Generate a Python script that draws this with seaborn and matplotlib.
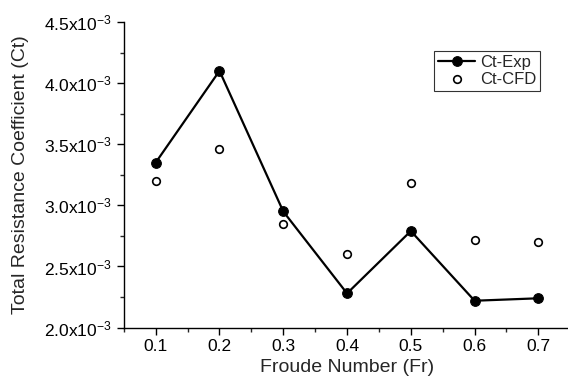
import numpy as np
import pandas as pd
import matplotlib
matplotlib.use("Agg")
import matplotlib.pyplot as plt
import seaborn as sns
from matplotlib.ticker import MultipleLocator, FuncFormatter

froude = [0.1, 0.2, 0.3, 0.4, 0.5, 0.6, 0.7]
ct_exp = [3.35e-3, 4.10e-3, 2.95e-3, 2.28e-3, 2.79e-3, 2.22e-3, 2.24e-3]
ct_cfd = [3.20e-3, 3.46e-3, 2.85e-3, 2.60e-3, 3.18e-3, 2.72e-3, 2.70e-3]

df = pd.DataFrame({"Fr": froude, "Ct-Exp": ct_exp, "Ct-CFD": ct_cfd})

sns.set_style("ticks")
plt.rcParams["font.family"] = ["Liberation Sans", "DejaVu Sans"]
plt.rcParams["mathtext.fontset"] = "custom"
plt.rcParams["mathtext.rm"] = "Liberation Sans"

fig = plt.figure(figsize=(5.68, 3.85), dpi=100)
ax = fig.add_axes([0.218, 0.149, 0.786, 0.794])

sns.lineplot(data=df, x="Fr", y="Ct-Exp", ax=ax, color="black", linewidth=1.6,
             marker="o", markersize=7, markeredgecolor="black", label="Ct-Exp")
sns.scatterplot(data=df, x="Fr", y="Ct-CFD", ax=ax, marker="o", s=30,
                facecolor="white", edgecolor="black", linewidth=1.2, label="Ct-CFD")

ax.set_xlim(0.05, 0.75)
ax.set_ylim(2.0e-3, 4.5e-3)
ax.xaxis.set_major_locator(MultipleLocator(0.1))
ax.xaxis.set_minor_locator(MultipleLocator(0.05))
ax.yaxis.set_major_locator(MultipleLocator(0.5e-3))
ax.yaxis.set_minor_locator(MultipleLocator(0.25e-3))
ax.xaxis.set_major_formatter(FuncFormatter(lambda v, p: f"{v:.1f}"))
ax.yaxis.set_major_formatter(FuncFormatter(
    lambda v, p: r"$\mathregular{%.1fx10^{-3}}$" % (v * 1e3)))

for side in ["top", "right"]:
    ax.spines[side].set_visible(False)
for side in ["left", "bottom"]:
    ax.spines[side].set_linewidth(1.0)
    ax.spines[side].set_color("black")
ax.tick_params(which="major", direction="out", length=5, width=1.0,
               labelsize=12.5, colors="black")
ax.tick_params(which="minor", direction="out", length=3, width=1.0)

ax.set_xlabel("Froude Number (Fr)", fontsize=14, labelpad=3)
ax.set_ylabel("Total Resistance Coefficient (Ct)", fontsize=14, labelpad=11)

leg = ax.legend(loc="upper left", bbox_to_anchor=(0.695, 0.905), frameon=True,
                fancybox=False, edgecolor="black", fontsize=12,
                handlelength=2.2, handletextpad=0.3, borderpad=0.25,
                labelspacing=0.1, borderaxespad=0)
leg.get_frame().set_linewidth(0.8)

fig.savefig("out.png", dpi=100)
